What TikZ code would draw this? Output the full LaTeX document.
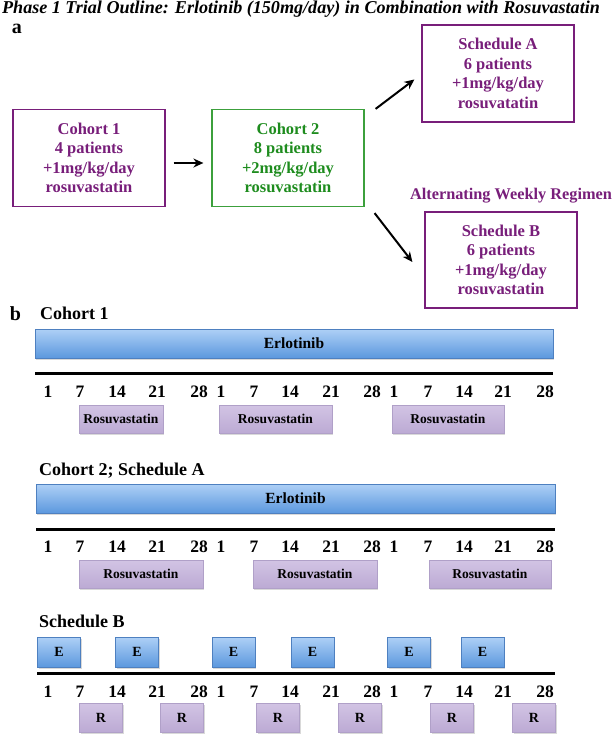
\documentclass[tikz,border=0pt]{standalone}
\usepackage{fontspec}
\setmainfont{Liberation Serif}
\usepackage{tikz}
\usepackage{xcolor}
\usetikzlibrary{arrows.meta,shadows}

\definecolor{armpurple}{RGB}{120,30,122}
\definecolor{armgreen}{RGB}{30,140,30}
\definecolor{armgreenedge}{RGB}{60,160,60}
\definecolor{erlblue}{RGB}{92,152,222}
\definecolor{erllight}{RGB}{174,208,246}
\definecolor{erledge}{RGB}{78,128,192}
\definecolor{rosulight}{RGB}{210,196,228}
\definecolor{rosudark}{RGB}{188,170,212}
\definecolor{rosuedge}{RGB}{176,160,200}

\begin{document}
\begin{tikzpicture}[x=1pt,y=-1pt]
			\tikzstyle{every node}+=[inner sep=0pt]
			\tikzstyle{armbox}=[draw=armpurple,text=armpurple,line width=1.2pt,minimum width=152pt,minimum height=97pt,align=center,font=\bfseries\fontsize{16.5}{19.5}\selectfont]
			\tikzstyle{erlbar}=[draw=erledge,line width=0.6pt,top color=erllight,bottom color=erlblue,drop shadow={shadow xshift=1pt,shadow yshift=-2pt,opacity=0.3},font=\bfseries\fontsize{15.5}{18}\selectfont]
			\tikzstyle{rosubar}=[draw=rosuedge,line width=0.5pt,top color=rosulight,bottom color=rosudark,drop shadow={shadow xshift=1pt,shadow yshift=-2pt,opacity=0.3},font=\bfseries\fontsize{13.5}{16}\selectfont]
			\tikzstyle{daynum}=[font=\bfseries\fontsize{17.5}{20}\selectfont]
			\tikzstyle{rowlabel}=[anchor=west,font=\bfseries\fontsize{18}{21}\selectfont]
			\tikzstyle{panel}=[font=\bfseries\fontsize{20}{22}\selectfont]
			\tikzstyle{flow}=[line width=2pt,-{Stealth[length=10pt,width=9pt]}]
			
			\useasboundingbox (0,0) rectangle (614,739);
			
			% a: trial outline
			\node[font=\bfseries\itshape\fontsize{18.1}{21}\selectfont] (title) at (301,9) {Phase 1 Trial Outline: Erlotinib (150mg/day) in Combination with Rosuvastatin};
			\node[panel] (pa) at (17,29) {a};
			
			\node[armbox] (coh1) at (89,158) {Cohort 1\\4 patients\\+1mg/kg/day\\rosuvastatin};
			\node[armbox,draw=armgreenedge,text=armgreen] (coh2) at (288,158) {Cohort 2\\8 patients\\+2mg/kg/day\\rosuvastatin};
			\node[armbox] (schA) at (498,73.5) {Schedule A\\6 patients\\+1mg/kg/day\\rosuvatatin};
			\node[armbox,minimum height=96pt] (schB) at (501,260) {Schedule B\\6 patients\\+1mg/kg/day\\rosuvastatin};
			\node[font=\bfseries\fontsize{16.3}{19}\selectfont,text=armpurple] (alt) at (511,196) {Alternating Weekly Regimen};
			
			\draw[flow,shorten <=8pt,shorten >=8pt] ([yshift=-5pt]coh1.east) -- ([yshift=-5pt]coh2.west);
			\coordinate (aS) at ([xshift=11pt]coh2.north east);
			\coordinate (aE) at ([xshift=-7pt,yshift=-6pt]schA.west);
			\draw[flow] (aS) -- (aE);
			\coordinate (bS) at ([xshift=10pt,yshift=-6pt]coh2.south east);
			\coordinate (bE) at ([xshift=-12pt,yshift=-2pt]schB.west);
			\draw[flow] (bS) -- (bE);
			
			% b: dosing timelines
			\node[panel] (pb) at (15.5,314) {b};
			\node[rowlabel] (lc1) at (40,313) {Cohort 1};
			\node[rowlabel] (lc2) at (39,471) {Cohort 2; Schedule A};
			\node[rowlabel] (lsb) at (39,621) {Schedule B};
			
			\node[erlbar,minimum width=518pt,minimum height=29pt] (erlA) at (294,343.5) {Erlotinib};
			\node[erlbar,minimum width=519pt,minimum height=29pt] (erlB) at (295.5,498.5) {Erlotinib};
			
			\draw[line width=3pt] (35,373.5) -- (553,373.5);
			\draw[line width=3pt] (36,529) -- (555,529);
			\draw[line width=3pt] (37,673) -- (555,673);
			
			\foreach \x/\d [count=\i] in {48/1,80/7,117/14,157/21,199/28,221/1,254/7,290/14,331/21,372/28,394/1,428/7,464/14,503/21,545/28}{
				\node[daynum] (da\i) at (\x,392) {\d};
				\node[daynum] (db\i) at (\x,547) {\d};
				\node[daynum] (dc\i) at (\x,692) {\d};
			}
			
			\node[rosubar,minimum width=84pt,minimum height=28pt] (rA1) at (121,419) {Rosuvastatin};
			\node[rosubar,minimum width=113pt,minimum height=28pt] (rA2) at (275.5,419) {Rosuvastatin};
			\node[rosubar,minimum width=112pt,minimum height=28pt] (rA3) at (448,419) {Rosuvastatin};
			
			\node[rosubar,minimum width=124pt,minimum height=28pt] (rB1) at (141,574) {Rosuvastatin};
			\node[rosubar,minimum width=124pt,minimum height=28pt] (rB2) at (315,574) {Rosuvastatin};
			\node[rosubar,minimum width=122pt,minimum height=28pt] (rB3) at (490,574) {Rosuvastatin};
			
			\foreach \x [count=\i] in {59,137,233.5,312.5,409,482.5}
				\node[erlbar,minimum width=43pt,minimum height=30pt,font=\bfseries\fontsize{14}{16}\selectfont] (e\i) at (\x,652) {E};
			\foreach \x [count=\i] in {101,182,278,360,452,534}
				\node[rosubar,minimum width=43pt,minimum height=29pt,font=\bfseries\fontsize{14}{16}\selectfont] (r\i) at (\x,717.5) {R};
		\end{tikzpicture}
\end{document}
